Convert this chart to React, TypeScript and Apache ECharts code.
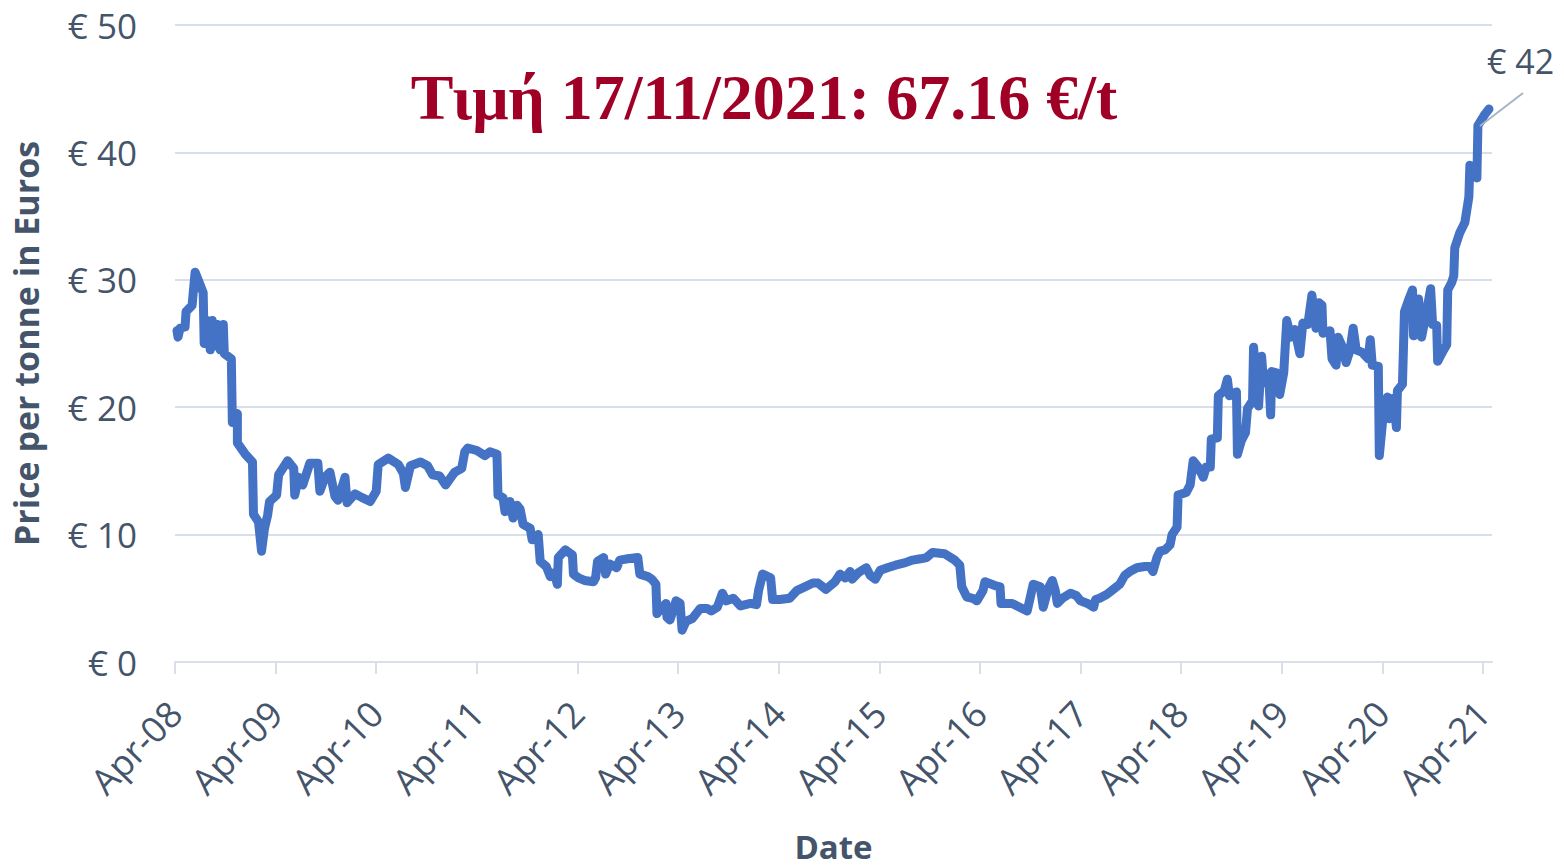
import React, { useEffect, useRef } from "react";
import * as echarts from "echarts";

// Years since April 2008
const xYears: number[] = [
  0.02, 0.03, 0.05, 0.10, 0.11, 0.17, 0.20, 0.25, 0.28, 0.29, 0.32, 0.35, 0.37, 0.40, 0.42, 0.45, 0.48, 0.49, 0.56, 0.57,
  0.62, 0.62, 0.70, 0.77, 0.78, 0.83, 0.86, 0.89, 0.92, 0.94, 1.01, 1.03, 1.12, 1.18, 1.19, 1.23, 1.27, 1.34, 1.42, 1.44,
  1.49, 1.54, 1.59, 1.62, 1.69, 1.71, 1.79, 1.86, 1.94, 2.00, 2.02, 2.12, 2.22, 2.27, 2.29, 2.34, 2.44, 2.51, 2.56, 2.63,
  2.69, 2.78, 2.85, 2.88, 2.91, 3.00, 3.08, 3.13, 3.20, 3.21, 3.26, 3.28, 3.33, 3.36, 3.40, 3.43, 3.46, 3.53, 3.55, 3.61,
  3.63, 3.69, 3.73, 3.77, 3.80, 3.81, 3.88, 3.95, 3.96, 4.01, 4.07, 4.16, 4.18, 4.20, 4.26, 4.28, 4.32, 4.39, 4.42, 4.50,
  4.60, 4.62, 4.70, 4.74, 4.78, 4.79, 4.84, 4.88, 4.89, 4.92, 4.98, 5.02, 5.04, 5.08, 5.14, 5.22, 5.29, 5.33, 5.39, 5.44,
  5.48, 5.55, 5.62, 5.72, 5.78, 5.80, 5.84, 5.92, 5.94, 6.01, 6.11, 6.18, 6.26, 6.34, 6.39, 6.47, 6.56, 6.61, 6.66, 6.71,
  6.73, 6.79, 6.87, 6.91, 6.96, 7.01, 7.08, 7.16, 7.26, 7.33, 7.41, 7.47, 7.53, 7.65, 7.75, 7.80, 7.82, 7.87, 7.93, 7.97,
  8.03, 8.05, 8.15, 8.20, 8.21, 8.32, 8.37, 8.47, 8.51, 8.53, 8.60, 8.63, 8.68, 8.72, 8.75, 8.77, 8.82, 8.90, 8.96, 9.00,
  9.07, 9.13, 9.15, 9.19, 9.26, 9.31, 9.39, 9.44, 9.49, 9.56, 9.64, 9.69, 9.72, 9.76, 9.79, 9.84, 9.89, 9.91, 9.96, 9.97,
  10.05, 10.09, 10.12, 10.17, 10.22, 10.25, 10.29, 10.30, 10.36, 10.37, 10.43, 10.46, 10.48, 10.55, 10.56, 10.60, 10.64, 10.66, 10.71, 10.72,
  10.75, 10.77, 10.80, 10.82, 10.87, 10.89, 10.90, 10.95, 10.98, 11.02, 11.05, 11.09, 11.13, 11.18, 11.21, 11.26, 11.30, 11.34, 11.37, 11.40,
  11.41, 11.48, 11.50, 11.54, 11.56, 11.60, 11.64, 11.68, 11.71, 11.74, 11.80, 11.86, 11.88, 11.90, 11.96, 11.97, 12.01, 12.05, 12.07, 12.11,
  12.14, 12.15, 12.20, 12.22, 12.26, 12.30, 12.31, 12.36, 12.39, 12.44, 12.48, 12.50, 12.54, 12.55, 12.57, 12.61, 12.64, 12.65, 12.69, 12.71,
  12.72, 12.77, 12.82, 12.86, 12.87, 12.93, 12.94, 12.95, 13.02, 13.06,
];

// Price per tonne in euros
const prices: number[] = [
  26.0, 25.5, 26.2, 26.3, 27.5, 28.0, 30.6, 29.6, 29.0, 25.0, 26.8, 24.5, 26.8, 24.8, 26.5, 24.5, 26.5, 24.2, 23.8, 18.8,
  19.5, 17.2, 16.3, 15.7, 11.6, 11.0, 8.7, 10.5, 11.5, 12.6, 13.1, 14.7, 15.8, 15.2, 13.1, 14.5, 13.9, 15.6, 15.6, 13.4,
  14.5, 14.9, 13.0, 12.7, 14.5, 12.5, 13.2, 12.9, 12.6, 13.4, 15.5, 16.0, 15.5, 14.8, 13.7, 15.4, 15.7, 15.4, 14.7, 14.6,
  13.9, 14.9, 15.2, 16.5, 16.8, 16.6, 16.2, 16.5, 16.3, 13.1, 12.9, 11.8, 12.6, 11.3, 12.3, 12.0, 10.8, 10.5, 9.6, 10.0,
  7.9, 7.5, 6.7, 7.0, 6.1, 8.2, 8.8, 8.4, 6.9, 6.6, 6.4, 6.3, 6.6, 7.9, 8.2, 6.9, 7.7, 7.4, 8.0, 8.1,
  8.2, 6.9, 6.7, 6.5, 6.1, 3.8, 4.3, 4.6, 3.5, 3.3, 4.8, 4.6, 2.5, 3.2, 3.4, 4.2, 4.2, 4.0, 4.3, 5.4,
  4.8, 5.0, 4.4, 4.6, 4.5, 5.6, 6.9, 6.6, 4.9, 4.9, 5.0, 5.6, 5.9, 6.2, 6.2, 5.7, 6.3, 6.9, 6.6, 7.1,
  6.5, 7.0, 7.4, 6.8, 6.5, 7.2, 7.4, 7.6, 7.8, 8.0, 8.1, 8.2, 8.6, 8.5, 8.0, 7.6, 5.9, 5.1, 5.0, 4.8,
  5.6, 6.3, 6.0, 5.9, 4.6, 4.6, 4.4, 4.0, 5.4, 6.1, 5.9, 4.3, 5.8, 6.4, 5.6, 4.6, 5.0, 5.4, 5.2, 4.8,
  4.6, 4.3, 4.9, 5.0, 5.3, 5.6, 6.1, 6.8, 7.1, 7.4, 7.5, 7.5, 7.1, 8.2, 8.7, 8.8, 9.2, 10.0, 10.6, 13.1,
  13.3, 13.9, 15.8, 15.3, 14.5, 15.3, 15.3, 17.5, 17.6, 20.9, 21.3, 22.2, 20.9, 21.2, 16.3, 17.4, 18.0, 19.9, 20.5, 24.7,
  21.8, 20.1, 24.0, 21.9, 22.6, 19.4, 22.8, 22.7, 21.0, 22.7, 26.8, 25.5, 26.1, 24.2, 26.6, 26.5, 28.8, 26.2, 28.2, 28.0,
  25.8, 26.0, 23.8, 23.3, 25.5, 24.8, 23.5, 24.5, 26.2, 24.5, 24.3, 23.8, 25.3, 23.3, 23.2, 16.2, 19.5, 20.8, 19.1, 20.7,
  18.4, 21.3, 21.8, 27.5, 28.4, 29.2, 25.6, 28.5, 25.5, 27.5, 29.3, 26.5, 26.4, 23.6, 23.9, 24.5, 24.9, 29.2, 29.8, 30.3,
  32.5, 33.7, 34.5, 36.5, 39.0, 38.5, 38.0, 42.1, 43.0, 43.4,
];

const xTickLabels: string[] = [
  "Apr-08", "Apr-09", "Apr-10", "Apr-11", "Apr-12", "Apr-13", "Apr-14",
  "Apr-15", "Apr-16", "Apr-17", "Apr-18", "Apr-19", "Apr-20", "Apr-21",
];

const titleText = "Τιμή 17/11/2021: 67.16 €/t";
const endLabelText = "€ 42";

const TEXT = "#44546A";
const GRID = "#D9DFE8";

export default function App() {
  const ref = useRef<HTMLDivElement>(null);
  useEffect(() => {
    if (!ref.current) return;
    const chart = echarts.init(ref.current, undefined, { renderer: "svg" });
    const data = xYears.map((x, i) => [x, prices[i]]);
    chart.setOption({
      animation: false,
      backgroundColor: "#ffffff",
      grid: { left: 175, right: 72, top: 25, bottom: 198, containLabel: false },
      title: {
        text: titleText,
        left: 759,
        top: 60,
        textAlign: "center",
        textStyle: {
          fontFamily: "Liberation Serif",
          fontWeight: "bold",
          fontSize: 64,
          color: "#A00025",
        },
      },
      xAxis: {
        type: "value",
        min: 0,
        max: 13.09,
        interval: 1,
        name: "Date",
        nameLocation: "middle",
        nameGap: 168,
        nameTextStyle: { fontFamily: "Open Sans", fontWeight: "bold", fontSize: 33, color: TEXT },
        axisLine: { show: true, lineStyle: { color: GRID, width: 2 } },
        axisTick: { show: true, length: 12, lineStyle: { color: GRID, width: 2 } },
        splitLine: { show: false },
        axisLabel: {
          rotate: 46,
          margin: 45,
          fontFamily: "Open Sans",
          fontSize: 36,
          color: TEXT,
          showMaxLabel: false,
          formatter: (v: number) => {
            const i = Math.round(v);
            return Math.abs(v - i) < 1e-6 && xTickLabels[i] ? xTickLabels[i] : "";
          },
        },
      },
      yAxis: {
        type: "value",
        min: 0,
        max: 50,
        interval: 10,
        name: "Price per tonne in Euros",
        nameLocation: "middle",
        nameGap: 132,
        nameTextStyle: { fontFamily: "Open Sans", fontWeight: "bold", fontSize: 34, color: TEXT },
        axisLine: { show: false },
        axisTick: { show: false },
        splitLine: { show: true, lineStyle: { color: GRID, width: 2 } },
        axisLabel: {
          margin: 38,
          fontFamily: "Open Sans",
          fontSize: 35,
          color: TEXT,
          formatter: (v: number) => "€ " + v,
        },
      },
      series: [
        {
          type: "line",
          data,
          showSymbol: false,
          smooth: false,
          lineStyle: { color: "#4472C4", width: 9, cap: "round", join: "round" },
          z: 3,
        },
      ],
      graphic: [
        {
          type: "line",
          shape: { x1: 1480, y1: 126, x2: 1523, y2: 93 },
          style: { stroke: "#A6B4C6", lineWidth: 2 },
          z: 10,
        },
        {
          type: "text",
          x: 1487,
          y: 44,
          style: {
            text: endLabelText,
            fontFamily: "Open Sans",
            fontSize: 34,
            fill: TEXT,
          },
          z: 10,
        },
      ],
    });
    return () => chart.dispose();
  }, []);
  return (
    <div
      ref={ref}
      style={{ position: "fixed", left: 0, top: 0, width: 1564, height: 868 }}
    />
  );
}
